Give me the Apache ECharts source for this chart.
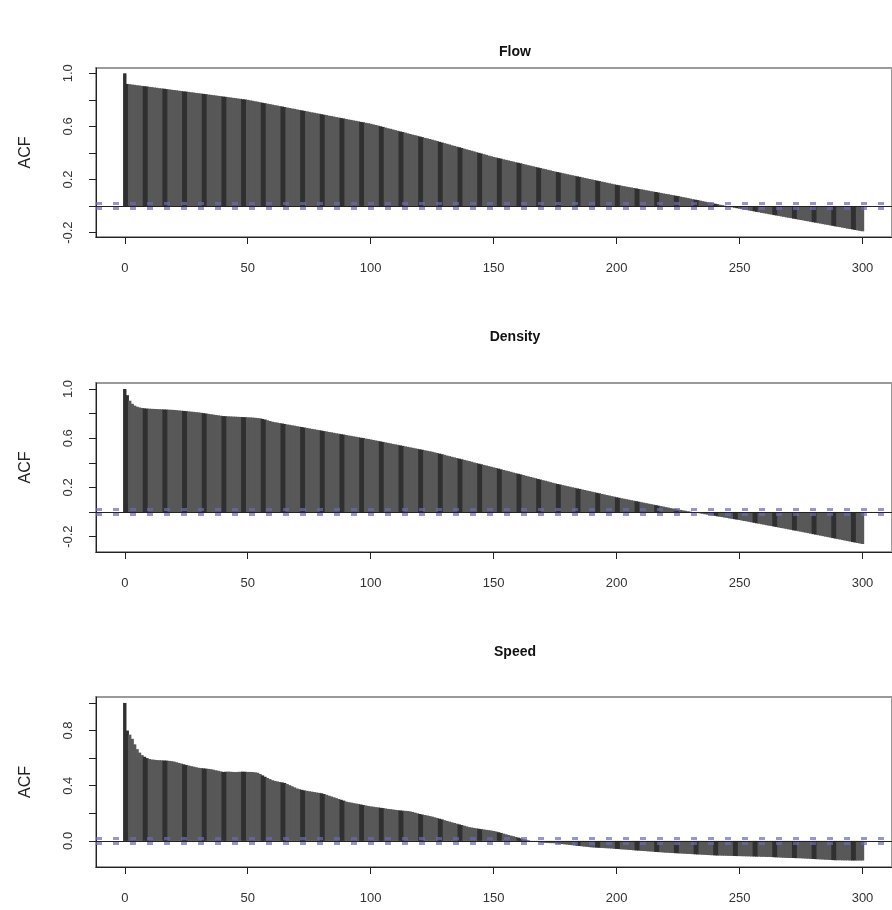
<!DOCTYPE html>
<html>
<head>
<meta charset="utf-8">
<script src="https://cdn.jsdelivr.net/npm/echarts@6/dist/echarts.min.js"></script>
<style>
html, body { margin: 0; padding: 0; background: #fff; }
#chart { width: 892px; height: 910px; }
</style>
</head>
<body>
<div id="chart"></div>
<script>
// ACF of flow / density / speed, lags 0..300
const lags = Array.from({ length: 301 }, (_, i) => i);

const flowAcf = [1.000,
  0.920, 0.918, 0.915, 0.913, 0.910, 0.908, 0.905, 0.903, 0.901, 0.898,
  0.896, 0.893, 0.891, 0.888, 0.886, 0.884, 0.881, 0.879, 0.876, 0.874,
  0.872, 0.869, 0.867, 0.864, 0.862, 0.860, 0.857, 0.855, 0.852, 0.850,
  0.848, 0.845, 0.843, 0.840, 0.838, 0.835, 0.833, 0.830, 0.828, 0.825,
  0.823, 0.820, 0.818, 0.815, 0.813, 0.810, 0.808, 0.805, 0.803, 0.800,
  0.796, 0.793, 0.789, 0.786, 0.782, 0.778, 0.775, 0.771, 0.768, 0.764,
  0.760, 0.757, 0.753, 0.750, 0.746, 0.742, 0.739, 0.735, 0.732, 0.728,
  0.724, 0.721, 0.717, 0.714, 0.710, 0.706, 0.703, 0.699, 0.696, 0.692,
  0.688, 0.685, 0.681, 0.678, 0.674, 0.670, 0.667, 0.663, 0.660, 0.656,
  0.652, 0.649, 0.645, 0.642, 0.638, 0.634, 0.631, 0.627, 0.624, 0.620,
  0.615, 0.611, 0.606, 0.601, 0.596, 0.591, 0.586, 0.582, 0.577, 0.572,
  0.567, 0.562, 0.558, 0.553, 0.548, 0.543, 0.538, 0.534, 0.529, 0.524,
  0.519, 0.514, 0.510, 0.505, 0.500, 0.495, 0.490, 0.484, 0.479, 0.474,
  0.469, 0.464, 0.458, 0.453, 0.448, 0.443, 0.438, 0.432, 0.427, 0.422,
  0.417, 0.412, 0.406, 0.401, 0.396, 0.391, 0.386, 0.380, 0.375, 0.370,
  0.366, 0.361, 0.357, 0.352, 0.348, 0.344, 0.339, 0.335, 0.330, 0.326,
  0.322, 0.317, 0.313, 0.308, 0.304, 0.300, 0.295, 0.291, 0.286, 0.282,
  0.278, 0.273, 0.269, 0.264, 0.260, 0.256, 0.252, 0.248, 0.244, 0.240,
  0.236, 0.232, 0.228, 0.224, 0.220, 0.216, 0.212, 0.208, 0.204, 0.200,
  0.196, 0.192, 0.188, 0.184, 0.180, 0.176, 0.172, 0.168, 0.164, 0.160,
  0.157, 0.153, 0.150, 0.146, 0.143, 0.140, 0.136, 0.133, 0.129, 0.126,
  0.123, 0.119, 0.116, 0.112, 0.109, 0.106, 0.102, 0.099, 0.095, 0.092,
  0.089, 0.085, 0.082, 0.078, 0.075, 0.071, 0.067, 0.064, 0.060, 0.056,
  0.052, 0.048, 0.045, 0.041, 0.037, 0.033, 0.029, 0.026, 0.022, 0.018,
  0.014, 0.010, 0.007, 0.003, -0.001, -0.005, -0.009, -0.012, -0.016, -0.020,
  -0.023, -0.027, -0.030, -0.034, -0.037, -0.040, -0.044, -0.047, -0.051, -0.054,
  -0.057, -0.061, -0.064, -0.068, -0.071, -0.074, -0.078, -0.081, -0.085, -0.088,
  -0.091, -0.095, -0.098, -0.102, -0.105, -0.108, -0.112, -0.115, -0.119, -0.122,
  -0.125, -0.129, -0.132, -0.136, -0.139, -0.142, -0.146, -0.149, -0.153, -0.156,
  -0.159, -0.163, -0.166, -0.170, -0.173, -0.176, -0.180, -0.183, -0.187, -0.190];

const densityAcf = [1.000,
  0.950, 0.905, 0.880, 0.865, 0.856, 0.850, 0.846, 0.843, 0.841, 0.840,
  0.839, 0.838, 0.837, 0.836, 0.835, 0.834, 0.833, 0.832, 0.831, 0.830,
  0.828, 0.826, 0.824, 0.822, 0.820, 0.818, 0.816, 0.814, 0.812, 0.810,
  0.807, 0.804, 0.801, 0.798, 0.795, 0.792, 0.789, 0.786, 0.783, 0.780,
  0.779, 0.778, 0.777, 0.776, 0.775, 0.774, 0.773, 0.772, 0.771, 0.770,
  0.769, 0.768, 0.766, 0.764, 0.762, 0.757, 0.752, 0.746, 0.740, 0.734,
  0.730, 0.727, 0.723, 0.720, 0.716, 0.712, 0.709, 0.705, 0.702, 0.698,
  0.694, 0.691, 0.687, 0.684, 0.680, 0.676, 0.673, 0.669, 0.666, 0.662,
  0.658, 0.655, 0.651, 0.648, 0.644, 0.640, 0.637, 0.633, 0.630, 0.626,
  0.622, 0.619, 0.615, 0.612, 0.608, 0.604, 0.601, 0.597, 0.594, 0.590,
  0.586, 0.582, 0.578, 0.574, 0.570, 0.566, 0.562, 0.558, 0.554, 0.550,
  0.546, 0.542, 0.538, 0.534, 0.530, 0.526, 0.522, 0.518, 0.514, 0.510,
  0.506, 0.502, 0.498, 0.494, 0.490, 0.485, 0.480, 0.475, 0.470, 0.465,
  0.459, 0.454, 0.449, 0.444, 0.439, 0.434, 0.429, 0.424, 0.419, 0.414,
  0.409, 0.403, 0.398, 0.393, 0.388, 0.383, 0.378, 0.373, 0.368, 0.363,
  0.358, 0.353, 0.347, 0.342, 0.337, 0.332, 0.327, 0.321, 0.316, 0.311,
  0.306, 0.301, 0.295, 0.290, 0.285, 0.280, 0.275, 0.269, 0.264, 0.259,
  0.254, 0.249, 0.243, 0.238, 0.233, 0.228, 0.224, 0.219, 0.215, 0.210,
  0.206, 0.201, 0.197, 0.192, 0.188, 0.183, 0.179, 0.174, 0.170, 0.165,
  0.161, 0.156, 0.152, 0.147, 0.143, 0.138, 0.134, 0.129, 0.125, 0.120,
  0.116, 0.112, 0.108, 0.104, 0.100, 0.096, 0.092, 0.088, 0.084, 0.080,
  0.076, 0.072, 0.068, 0.064, 0.060, 0.056, 0.052, 0.048, 0.044, 0.040,
  0.036, 0.032, 0.028, 0.024, 0.020, 0.017, 0.013, 0.010, 0.006, 0.003,
  -0.001, -0.004, -0.007, -0.011, -0.014, -0.018, -0.021, -0.024, -0.028, -0.031,
  -0.035, -0.038, -0.041, -0.045, -0.048, -0.052, -0.055, -0.058, -0.062, -0.065,
  -0.069, -0.073, -0.076, -0.080, -0.084, -0.088, -0.092, -0.095, -0.099, -0.103,
  -0.107, -0.111, -0.114, -0.118, -0.122, -0.126, -0.130, -0.133, -0.137, -0.141,
  -0.145, -0.149, -0.152, -0.156, -0.160, -0.164, -0.168, -0.172, -0.176, -0.180,
  -0.184, -0.188, -0.192, -0.196, -0.200, -0.204, -0.208, -0.212, -0.216, -0.220,
  -0.224, -0.228, -0.232, -0.236, -0.240, -0.244, -0.248, -0.252, -0.256, -0.260];

const speedAcf = [1.000,
  0.800, 0.770, 0.740, 0.700, 0.665, 0.640, 0.622, 0.610, 0.600, 0.594,
  0.590, 0.588, 0.586, 0.585, 0.584, 0.583, 0.582, 0.580, 0.578, 0.575,
  0.570, 0.565, 0.560, 0.555, 0.550, 0.546, 0.542, 0.538, 0.534, 0.530,
  0.528, 0.526, 0.524, 0.522, 0.520, 0.516, 0.512, 0.508, 0.504, 0.500,
  0.501, 0.502, 0.501, 0.500, 0.499, 0.500, 0.501, 0.502, 0.501, 0.500,
  0.500, 0.499, 0.497, 0.494, 0.485, 0.475, 0.465, 0.456, 0.448, 0.440,
  0.435, 0.431, 0.427, 0.424, 0.420, 0.412, 0.404, 0.396, 0.388, 0.380,
  0.375, 0.370, 0.366, 0.363, 0.360, 0.357, 0.354, 0.351, 0.348, 0.345,
  0.340, 0.334, 0.328, 0.322, 0.316, 0.310, 0.304, 0.298, 0.292, 0.285,
  0.281, 0.278, 0.274, 0.271, 0.268, 0.264, 0.260, 0.257, 0.253, 0.250,
  0.248, 0.245, 0.243, 0.240, 0.238, 0.235, 0.232, 0.230, 0.228, 0.225,
  0.223, 0.221, 0.219, 0.218, 0.217, 0.214, 0.210, 0.205, 0.200, 0.195,
  0.191, 0.188, 0.184, 0.180, 0.176, 0.171, 0.166, 0.161, 0.156, 0.150,
  0.145, 0.140, 0.135, 0.130, 0.125, 0.120, 0.115, 0.110, 0.105, 0.100,
  0.097, 0.094, 0.091, 0.088, 0.085, 0.083, 0.080, 0.078, 0.075, 0.072,
  0.068, 0.063, 0.058, 0.053, 0.048, 0.043, 0.038, 0.034, 0.029, 0.024,
  0.019, 0.014, 0.010, 0.005, 0.001, -0.002, -0.005, -0.008, -0.011, -0.013,
  -0.014, -0.015, -0.016, -0.016, -0.017, -0.019, -0.021, -0.023, -0.025, -0.027,
  -0.029, -0.031, -0.033, -0.035, -0.037, -0.039, -0.041, -0.043, -0.045, -0.047,
  -0.048, -0.049, -0.050, -0.051, -0.052, -0.053, -0.054, -0.055, -0.057, -0.058,
  -0.059, -0.061, -0.062, -0.063, -0.065, -0.066, -0.068, -0.069, -0.070, -0.072,
  -0.073, -0.074, -0.076, -0.077, -0.078, -0.080, -0.081, -0.082, -0.084, -0.085,
  -0.086, -0.087, -0.088, -0.089, -0.090, -0.091, -0.092, -0.093, -0.094, -0.095,
  -0.096, -0.097, -0.098, -0.099, -0.100, -0.101, -0.102, -0.103, -0.104, -0.105,
  -0.106, -0.106, -0.107, -0.107, -0.108, -0.108, -0.109, -0.109, -0.110, -0.110,
  -0.111, -0.111, -0.112, -0.112, -0.113, -0.113, -0.114, -0.114, -0.115, -0.115,
  -0.116, -0.116, -0.117, -0.118, -0.119, -0.120, -0.121, -0.122, -0.123, -0.124,
  -0.124, -0.124, -0.125, -0.125, -0.126, -0.127, -0.128, -0.129, -0.130, -0.131,
  -0.132, -0.133, -0.134, -0.135, -0.136, -0.137, -0.138, -0.139, -0.140, -0.140,
  -0.140, -0.141, -0.141, -0.141, -0.142, -0.142, -0.142, -0.142, -0.142, -0.142];

const panelTitles = ['Flow', 'Density', 'Speed'];
const xTicks = [0, 50, 100, 150, 200, 250, 300];
const yTicks = [
  [-0.2, 0, 0.2, 0.4, 0.6, 0.8, 1.0],
  [-0.2, 0, 0.2, 0.4, 0.6, 0.8, 1.0],
  [0, 0.2, 0.4, 0.6, 0.8, 1.0]
];
const yLabels = [
  [-0.2, 0.2, 0.6, 1.0],
  [-0.2, 0.2, 0.6, 1.0],
  [0, 0.4, 0.8]
];
const ciBound = 0.022;

const series = [flowAcf, densityAcf, speedAcf];

// layout of the three panels (pixels / axis ranges)
const gridTops = [68, 383, 697];
const gridHeights = [169, 169, 170];
const yMins = [-0.233, -0.325, -0.189];
const yMaxs = [1.04, 1.049, 1.043];
const titleTops = [40, 325, 640];

const fontFamily = '"Liberation Sans", Arial, sans-serif';

const option = {
    animation: false,
    backgroundColor: '#fff',
    title: panelTitles.map((t, i) => ({
        text: t,
        left: 510,
        top: titleTops[i],
        textAlign: 'center',
        textStyle: { fontFamily: fontFamily, fontSize: 14, fontWeight: 'bold', color: '#111' }
    })),
    grid: gridTops.map((top, i) => ({
        left: 96,
        top: top,
        width: 800,
        height: gridHeights[i],
        show: true,
        borderColor: '#9a9a9a',
        borderWidth: 2,
        backgroundColor: 'transparent'
    })),
    xAxis: series.map((_, i) => ({
        type: 'value',
        gridIndex: i,
        min: -11.7,
        max: 312,
        splitLine: { show: false },
        axisLine: { show: true, onZero: false, lineStyle: { color: '#222', width: 1 } },
        axisTick: { show: true, customValues: xTicks, length: 7, lineStyle: { color: '#222' } },
        axisLabel: {
            customValues: xTicks,
            margin: 25,
            fontFamily: fontFamily,
            fontSize: 13,
            color: '#333'
        }
    })),
    yAxis: series.map((_, i) => ({
        type: 'value',
        gridIndex: i,
        min: yMins[i],
        max: yMaxs[i],
        name: 'ACF',
        nameLocation: 'middle',
        nameRotate: 90,
        nameGap: 62,
        nameTextStyle: { fontFamily: fontFamily, fontSize: 16, color: '#222' },
        splitLine: { show: false },
        axisLine: { show: true, onZero: false, lineStyle: { color: '#222', width: 1 } },
        axisTick: { show: true, customValues: yTicks[i], length: 7, lineStyle: { color: '#222' } },
        axisLabel: {
            customValues: yLabels[i],
            rotate: 90,
            margin: 21,
            formatter: v => v.toFixed(1),
            fontFamily: fontFamily,
            fontSize: 13,
            color: '#333'
        }
    })),
    series: series.map((vals, i) => ({
        type: 'bar',
        xAxisIndex: i,
        yAxisIndex: i,
        barWidth: 3.4,
        data: lags.map((l, k) => [l, vals[k]]),
        itemStyle: {
            color: p => (p.dataIndex % 8 < 2 ? '#303030' : '#585858')
        },
        markLine: {
            silent: true,
            symbol: 'none',
            label: { show: false },
            data: [
                { yAxis: 0, lineStyle: { color: '#222', width: 1, type: 'solid' } },
                { yAxis: ciBound, lineStyle: { color: '#6a6ab4', width: 3, type: [6, 11], opacity: 0.7 } },
                { yAxis: -ciBound, lineStyle: { color: '#6a6ab4', width: 3, type: [6, 11], opacity: 0.7 } }
            ]
        }
    }))
};

const myChart = echarts.init(document.getElementById('chart'));
myChart.setOption(option);
</script>
</body>
</html>
